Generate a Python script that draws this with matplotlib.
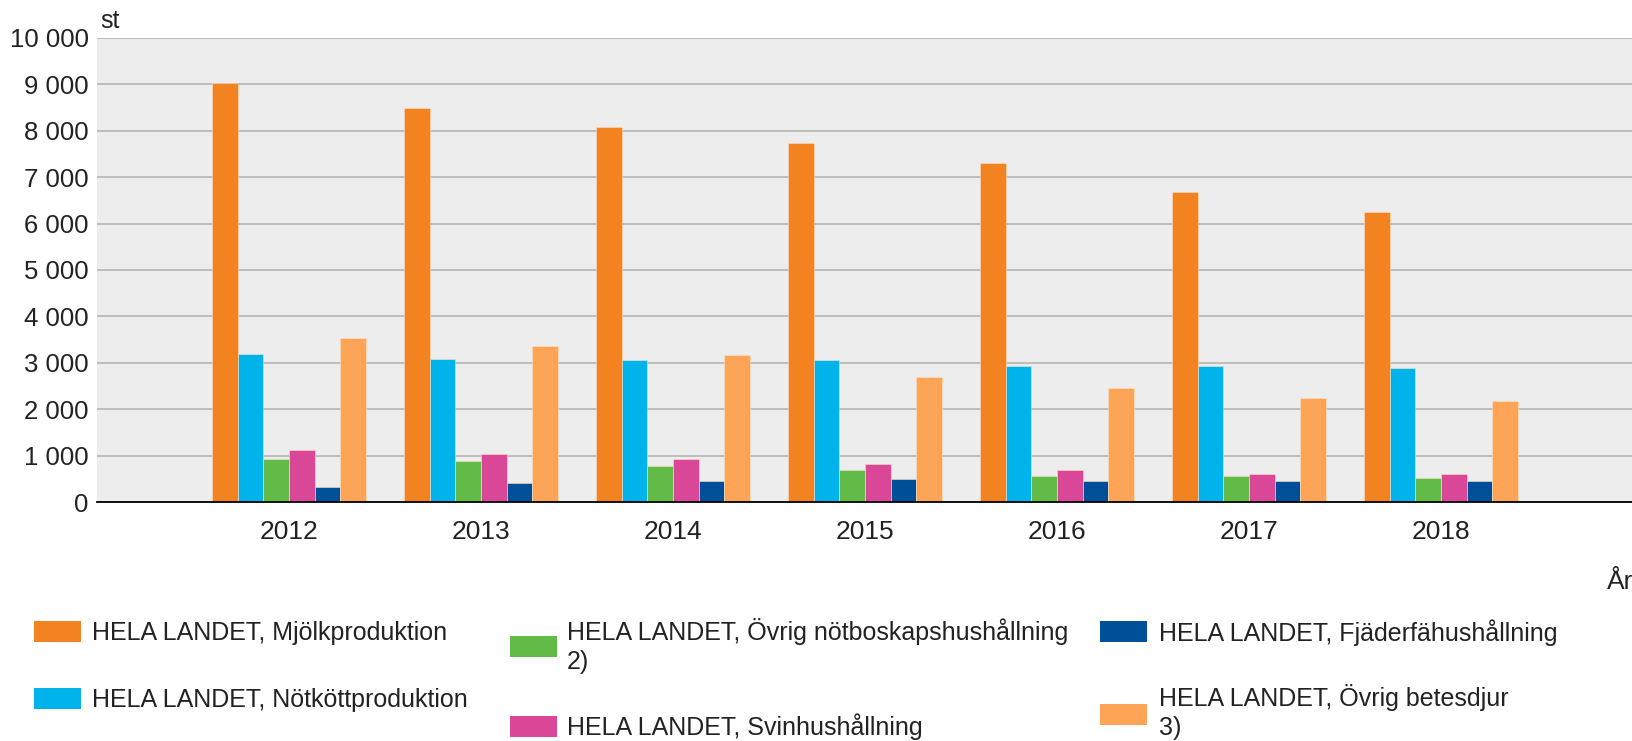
import numpy as np
import matplotlib
matplotlib.use('Agg')
import matplotlib.pyplot as plt
from matplotlib.patches import Rectangle

plt.rcParams['font.family'] = ['Liberation Sans', 'DejaVu Sans']

# Data (antal företag, st)
years = ['2012', '2013', '2014', '2015', '2016', '2017', '2018']
mjolk = [9020, 8500, 8090, 7740, 7300, 6690, 6250]
notkott = [3180, 3090, 3050, 3050, 2925, 2925, 2890]
ovrig_not = [930, 885, 770, 690, 570, 570, 525]
svin = [1120, 1045, 930, 815, 690, 610, 610]
fjaderfa = [330, 405, 445, 485, 445, 445, 445]
betesdjur = [3530, 3370, 3170, 2690, 2450, 2250, 2170]

labels = ['HELA LANDET, Mjölkproduktion',
          'HELA LANDET, Nötköttproduktion',
          'HELA LANDET, Övrig nötboskapshushållning\n2)',
          'HELA LANDET, Svinhushållning',
          'HELA LANDET, Fjäderfähushållning',
          'HELA LANDET, Övrig betesdjur\n3)']
yticks = [0, 1000, 2000, 3000, 4000, 5000, 6000, 7000, 8000, 9000, 10000]

series = [mjolk, notkott, ovrig_not, svin, fjaderfa, betesdjur]
colors = ['#F38221', '#00B3EB', '#62BB46', '#DA4797', '#004F99', '#FEA456']

W, H = 1633, 741
fig = plt.figure(figsize=(W / 100, H / 100), dpi=100)
ax = fig.add_axes([97 / W, 1 - 502 / H, (W - 97) / W, 464 / H])
ax.set_facecolor('#EDEDED')

x = np.arange(1, len(years) + 1)
w = 0.8 / len(series)
for i, (vals, c) in enumerate(zip(series, colors)):
    ax.bar(x + (i - 2.5) * w, vals, w, color=c, edgecolor='#FFE0C0', linewidth=0.4, zorder=3)

ax.set_xlim(0, 8)
ax.set_ylim(0, 10000)
ax.set_yticks(yticks)
ax.set_yticklabels([f'{v:,}'.replace(',', ' ') for v in yticks])
ax.set_xticks(x)
ax.set_xticklabels(years)
ax.grid(axis='y', color='#BDBDBD', linewidth=1.4, zorder=1)
ax.tick_params(axis='y', length=0, pad=6, labelsize=18.5, labelcolor='#222222')
ax.tick_params(axis='x', length=0, pad=13, labelsize=19, labelcolor='#222222')
for s in ['left', 'right', 'top']:
    ax.spines[s].set_visible(False)
ax.spines['bottom'].set_color('black')
ax.spines['bottom'].set_linewidth(1.3)
ax.spines['bottom'].set_zorder(4)

fig.text(100 / W, 1 - 21 / H, 'st', fontsize=18, va='center', ha='left', color='#222222')
fig.text(1.0, 1 - 582 / H, 'År', fontsize=19, va='center', ha='right', color='#222222')

# Förklaring (legend) placerad manuellt
patch_x = [34, 34, 510, 510, 1100, 1100]
text_x = [92, 92, 567, 567, 1159, 1159]
patch_y = [631, 698, 646, 726, 631, 714]
text_y = [633, 700, 646, 727, 633, 712]
for lab, c, px, tx, py, ty in zip(labels, colors, patch_x, text_x, patch_y, text_y):
    fig.add_artist(Rectangle((px / W, 1 - (py + 10.5) / H), 47 / W, 21 / H,
                             transform=fig.transFigure, facecolor=c, edgecolor='none'))
    fig.text(tx / W, 1 - ty / H, lab, fontsize=18, va='center', ha='left',
             color='#222222', linespacing=1.3)

fig.savefig('out.png', dpi=100)
